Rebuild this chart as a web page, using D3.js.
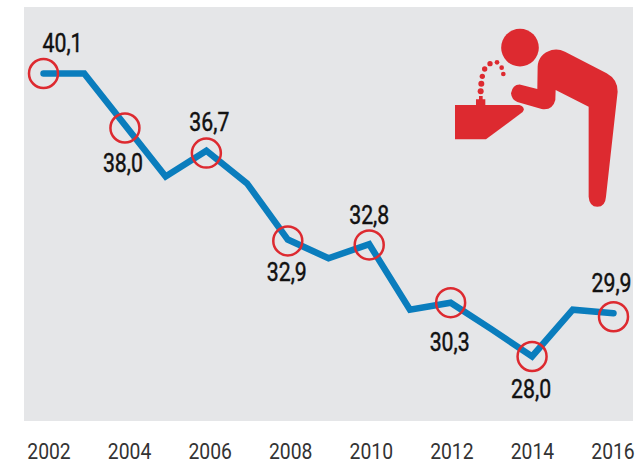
<!DOCTYPE html>
<html>
<head>
<meta charset="utf-8">
<script src="https://cdn.jsdelivr.net/npm/d3@7"></script>
<style>
    html, body { margin: 0; padding: 0; background: #fff; }
    svg { display: block; }
    text { font-family: Roboto, sans-serif; }
</style>
</head>
<body>
<script>
//yearly values
var years = [2002, 2003, 2004, 2005, 2006, 2007, 2008, 2009, 2010, 2011, 2012, 2013, 2014, 2015, 2016];
var values = [40.1, 40.1, 37.9, 35.7, 36.8, 35.4, 33.0, 32.2, 32.8, 30.0, 30.3, 29.17, 28.0, 30.0, 29.85];

//years with a red ring, where the rings sit and what they are labelled
var ringYears = [2002, 2004, 2006, 2008, 2010, 2012, 2014, 2016];
var ringValues = [40.1, 37.77, 36.7, 32.94, 32.77, 30.3, 28.0, 29.7];
var ringLabels = ["40,1", "38,0", "36,7", "32,9", "32,8", "30,3", "28,0", "29,9"];

//begin script when window loads
window.onload = setChart();

function setChart(){
    //page dimensions
    var width = 636,
        height = 460;

    //plot panel
    var panel = { left: 24, right: 633, top: 7, bottom: 421 };

    var svg = d3.select("body")
        .append("svg")
        .attr("width", width)
        .attr("height", height);

    //line sits a little left of the year labels, so two x scales
    var x = d3.scaleLinear()
        .domain([2002, 2016])
        .range([43.5, 613.5]);

    var xAxisScale = d3.scaleLinear()
        .domain([2002, 2016])
        .range([48.5, 612.5]);

    var y = d3.scaleLinear()
        .domain([40.1, 28.0])
        .range([73.5, 356.5]);

    //grey background
    svg.append("rect")
        .attr("x", panel.left)
        .attr("y", panel.top)
        .attr("width", panel.right - panel.left)
        .attr("height", panel.bottom - panel.top)
        .attr("fill", "#e5e6e8");

    //year labels
    var xAxis = d3.axisBottom(xAxisScale)
        .tickValues(ringYears)
        .tickFormat(d3.format("d"))
        .tickSize(0);

    var axis = svg.append("g")
        .attr("transform", "translate(0,459)")
        .call(xAxis);
    axis.select(".domain").remove();
    axis.selectAll("text")
        .attr("y", 0)
        .attr("dy", 0)
        .attr("transform", "scale(0.86,1)")
        .attr("font-size", 22.5)
        .attr("fill", "#333");
    axis.attr("font-family", null);

    //main line
    var line = d3.line()
        .x(function(d, i){ return x(years[i]); })
        .y(function(d){ return y(d); });

    svg.append("path")
        .datum(values)
        .attr("d", line)
        .attr("fill", "none")
        .attr("stroke", "#0a7dbd")
        .attr("stroke-width", 6.5)
        .attr("stroke-linecap", "round")
        .attr("stroke-linejoin", "miter");

    //red rings
    svg.selectAll(".ring")
        .data(ringValues)
        .enter()
        .append("circle")
        .attr("class", "ring")
        .attr("cx", function(d, i){ return x(ringYears[i]); })
        .attr("cy", function(d){ return y(d); })
        .attr("r", 14.5)
        .attr("fill", "none")
        .attr("stroke", "#dd2a30")
        .attr("stroke-width", 2.5);

    //label nudges from each ring, [dx, dy]
    var nudges = [[19, -21.5], [-2, 44], [3, -22], [-1, 40], [0, -21], [-1, 48], [-1, 41], [-2, -25]];

    svg.selectAll(".label")
        .data(ringLabels)
        .enter()
        .append("text")
        .attr("class", "label")
        .attr("text-anchor", "middle")
        .attr("font-size", 25)
        .attr("font-weight", 400)
        .attr("fill", "#111")
        .attr("stroke", "#111")
        .attr("stroke-width", 0.45)
        .attr("transform", function(d, i){
            var px = x(ringYears[i]) + nudges[i][0],
                py = y(ringValues[i]) + nudges[i][1];
            return "translate(" + px + "," + py + ") scale(0.85,1)";
        })
        .text(function(d){ return d; });

    drawIcon();

    //drinking fountain pictogram, drawn in the 3x crop coordinates
    function drawIcon(){
        var icon = svg.append("g")
            .attr("transform", "translate(430,10) scale(0.3333)")
            .attr("fill", "#dd2a30");

        //head
        icon.append("circle")
            .attr("cx", 270).attr("cy", 113).attr("r", 56.5);

        //body, arm and leg
        icon.append("path")
            .attr("d", "M476,560 Q478,590 502,590 Q526,590 528,560 L563,245 Q563,208 530,190 L405,125 Q385,115 365,120 Q325,132 323,170 L322,237 L272,224 Q248,222 243,250 Q245,270 262,276 L335,297 Q368,302 376,270 L377,240 L476,290 Z");

        //basin
        icon.append("path")
            .attr("d", "M75,285 L268,285 Q288,292 278,306 L168,388 L75,388 Z");

        //spout
        icon.append("path")
            .attr("d", "M138,285 L138,268 L147,268 L147,258 L158,258 L158,268 L166,268 L166,285 Z");

        //water drops
        var drops = [[152, 244, 9], [154, 221, 9], [157, 199, 8], [164, 177, 8], [180, 161, 8], [201, 157, 7], [215, 173, 7], [220, 192, 7]];
        icon.selectAll(".drop")
            .data(drops)
            .enter()
            .append("circle")
            .attr("class", "drop")
            .attr("cx", function(d){ return d[0]; })
            .attr("cy", function(d){ return d[1]; })
            .attr("r", function(d){ return d[2]; });
    };
};
</script>
</body>
</html>
